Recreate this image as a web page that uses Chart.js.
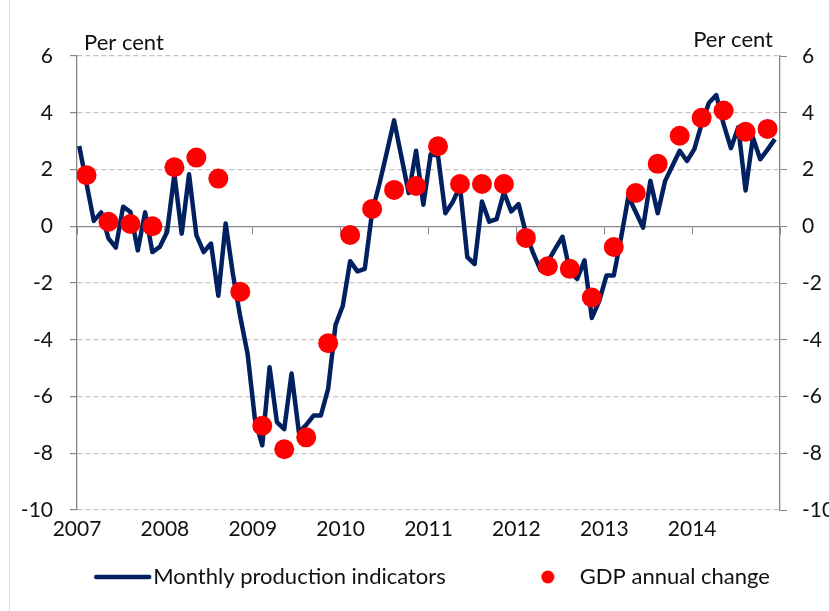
<!DOCTYPE html>
<html>
<head>
<meta charset="utf-8">
<script src="https://cdn.jsdelivr.net/npm/chart.js@4.4.1/dist/chart.umd.min.js"></script>
<style>
  html, body { margin: 0; padding: 0; background: #fff; overflow: hidden; width: 829px; height: 611px; position: relative; }
  #wrap { position: absolute; left: -67px; top: 0; width: 933px; height: 611px; }
  #frame { position: absolute; left: 9px; top: 0; height: 611px; border-left: 1px solid #d9d9d9; }
</style>
</head>
<body>
<div id="wrap">
  <canvas id="grafica" width="933" height="611"></canvas>
</div>
<div id="frame"></div>
<script>
const firstYear = 2007;
const yearTicks = [2007, 2008, 2009, 2010, 2011, 2012, 2013, 2014, 2015];
const yTicks = [6, 4, 2, 0, -2, -4, -6, -8, -10];
const seriesNames = ["Monthly production indicators", "GDP annual change"];
const unitLabel = "Per cent";

// Monthly production indicators, Jan 2007 - Dec 2014
const monthly = [
  2.83, 1.5, 0.19, 0.49, -0.43, -0.75, 0.69, 0.5, -0.85, 0.49, -0.91, -0.73,
  -0.2, 1.83, -0.26, 1.83, -0.31, -0.91, -0.61, -2.45, 0.1, -1.7, -3.2, -4.5,
  -6.8, -7.72, -4.97, -6.9, -7.15, -5.19, -7.26, -7.0, -6.67, -6.67, -5.72, -3.48,
  -2.8, -1.23, -1.59, -1.5, 0.5, 1.5, 2.6, 3.73, 2.45, 1.17, 2.66, 0.76,
  2.54, 2.48, 0.46, 0.85, 1.41, -1.09, -1.33, 0.87, 0.16, 0.25, 1.2, 0.52,
  0.78, -0.25, -0.95, -1.55, -1.25, -0.8, -0.37, -1.6, -1.86, -1.2, -3.23, -2.65,
  -1.74, -1.74, -0.4, 1.05, 0.5, -0.05, 1.6, 0.46, 1.59, 2.12, 2.66, 2.3,
  2.72, 3.61, 4.35, 4.62, 3.6, 2.75, 3.49, 1.26, 3.13, 2.36, 2.7, 3.07
];

// GDP annual change, 2007Q1 - 2014Q4
const gdp = [
  1.8, 0.16, 0.08, 0.0, 2.08, 2.42, 1.68, -2.31,
  -7.03, -7.86, -7.44, -4.12, -0.31, 0.61, 1.28, 1.42,
  2.82, 1.49, 1.49, 1.49, -0.41, -1.41, -1.5, -2.51,
  -0.73, 1.17, 2.2, 3.19, 3.82, 4.08, 3.33, 3.43
];

const azul = "#002060";
const rojo = "#ff0000";
const gris = "#868686";
const fuente = "Lato, 'Noto Sans', sans-serif";

const puntosMensuales = monthly.map((v, i) => ({ x: firstYear + (i + 0.3) / 12, y: v }));
const puntosPib = gdp.map((v, q) => ({ x: firstYear + (q * 3 + 1.3) / 12, y: v }));

// legend markers
const cajaLeyenda = 113;
function marcaLinea() {
  const c = document.createElement("canvas");
  c.width = cajaLeyenda + 24; c.height = 8;
  const g = c.getContext("2d");
  g.strokeStyle = azul; g.lineWidth = 4.5; g.lineCap = "round";
  g.beginPath(); g.moveTo(cajaLeyenda - 34, 4); g.lineTo(cajaLeyenda + 19, 4); g.stroke();
  return c;
}
function marcaPunto() {
  const c = document.createElement("canvas");
  c.width = cajaLeyenda + 24; c.height = 16;
  const g = c.getContext("2d");
  g.fillStyle = rojo;
  g.beginPath(); g.arc(cajaLeyenda - 9, 8, 6.5, 0, Math.PI * 2); g.fill();
  return c;
}
const marcas = [marcaLinea(), marcaPunto()];

const textoUnidades = {
  id: "textoUnidades",
  afterDraw(chart) {
    const { ctx, chartArea } = chart;
    ctx.save();
    ctx.font = "22px " + fuente;
    ctx.fillStyle = "#111";
    ctx.textBaseline = "middle";
    ctx.textAlign = "left";
    ctx.fillText(unitLabel, chartArea.left + 7, 43);
    ctx.textAlign = "right";
    ctx.fillText(unitLabel, chartArea.right - 7, 40);
    ctx.restore();
  }
};

const fijarTicks = valores => scale => { scale.ticks = valores.map(v => ({ value: v })); };

new Chart(document.getElementById("grafica"), {
  data: {
    datasets: [
      {
        type: "line",
        label: seriesNames[0],
        data: puntosMensuales,
        borderColor: azul,
        backgroundColor: azul,
        borderWidth: 4.5,
        borderJoinStyle: "round",
        pointRadius: 0,
        pointStyle: "line",
        tension: 0,
        order: 2
      },
      {
        type: "scatter",
        label: seriesNames[1],
        data: puntosPib,
        backgroundColor: rojo,
        borderWidth: 0,
        pointRadius: 10,
        pointHoverRadius: 10,
        order: 1
      }
    ]
  },
  options: {
    responsive: false,
    animation: false,
    layout: { padding: { left: 0, right: 0, top: 56, bottom: 13 } },
    scales: {
      x: {
        type: "linear",
        min: 2007, max: 2015,
        position: "bottom",
        grid: { display: false, drawTicks: false },
        border: { display: false },
        afterBuildTicks: fijarTicks(yearTicks),
        afterFit: s => { s.height = 46; },
        ticks: {
          padding: 7,
          color: "#111",
          font: { family: fuente, size: 21 },
          callback: v => v < 2015 ? String(v) : ""
        }
      },
      xCero: {
        axis: "x",
        type: "linear",
        min: 2007, max: 2015,
        position: { y: 0 },
        afterBuildTicks: fijarTicks(yearTicks),
        grid: { drawOnChartArea: false, drawTicks: true, tickLength: 7, tickColor: gris },
        border: { display: true, color: gris, width: 1.3 },
        ticks: { display: false }
      },
      y: {
        type: "linear",
        position: "left",
        min: -10, max: 6,
        afterBuildTicks: fijarTicks(yTicks),
        afterFit: s => { s.width = 144; },
        grid: {
          color: c => c.tick && c.tick.value === 0 ? "rgba(0,0,0,0)" : "#c4c4c4",
          lineWidth: 1.2,
          tickLength: 7,
          tickColor: gris
        },
        border: { display: true, color: gris, width: 1.3, dash: [5, 3] },
        ticks: {
          padding: 17,
          color: "#111",
          font: { family: fuente, size: 21 },
          callback: v => String(v)
        }
      },
      y2: {
        axis: "y",
        type: "linear",
        position: "right",
        min: -10, max: 6,
        afterBuildTicks: fijarTicks(yTicks),
        afterFit: s => { s.width = 86; },
        grid: { drawOnChartArea: false, tickLength: 7, tickColor: gris },
        border: { display: true, color: gris, width: 1.3 },
        ticks: {
          padding: 15,
          color: "#111",
          font: { family: fuente, size: 21 },
          callback: v => String(v)
        }
      }
    },
    plugins: {
      legend: {
        position: "bottom",
        labels: {
          usePointStyle: true,
          pointStyleWidth: cajaLeyenda,
          boxHeight: 14,
          padding: 10,
          color: "#111",
          font: { family: fuente, size: 22 },
          sort: (a, b) => a.datasetIndex - b.datasetIndex,
          generateLabels: chart => {
            const items = Chart.defaults.plugins.legend.labels.generateLabels(chart);
            items.forEach(it => { it.pointStyle = marcas[it.datasetIndex]; });
            return items;
          }
        }
      },
      tooltip: { enabled: false }
    }
  },
  plugins: [textoUnidades]
});
</script>
</body>
</html>
